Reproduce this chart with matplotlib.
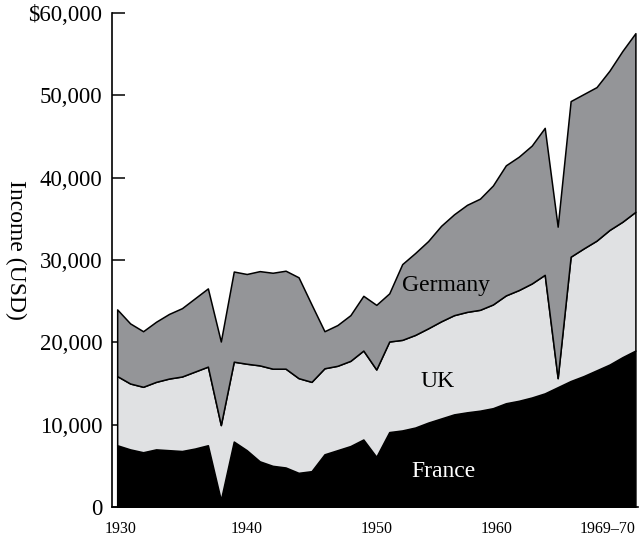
import matplotlib
matplotlib.use("Agg")
import matplotlib.pyplot as plt
import numpy as np

plt.rcParams["font.family"] = ["Liberation Serif", "DejaVu Serif"]

years = np.arange(1930, 1971)

france = [7500, 7000, 6650, 7000, 6900, 6800, 7100, 7500, 850, 7950,
          6900, 5550, 5000, 4800, 4150, 4350, 6400, 6900, 7400, 8200,
          6100, 9100, 9300, 9650, 10250, 10750, 11250, 11500, 11700, 12000,
          12600, 12900, 13300, 13800, 14550, 15300, 15900, 16600, 17300, 18200,
          19000]
uk = [8400, 8000, 7950, 8200, 8700, 9050, 9350, 9550, 9100, 9700,
      10500, 11650, 11800, 12000, 11500, 10850, 10450, 10250, 10350, 10800,
      10600, 11000, 11000, 11250, 11450, 11800, 12050, 12200, 12250, 12600,
      13100, 13450, 13850, 14400, 1100, 15100, 15500, 15750, 16350, 16450,
      16850]
germany = [8100, 7300, 6750, 7300, 7850, 8300, 8900, 9500, 10150, 10950,
           10900, 11450, 11650, 11900, 12250, 9400, 4500, 4950, 5550, 6650,
           7850, 5850, 9200, 9950, 10600, 11600, 12250, 13000, 13500, 14450,
           15800, 16200, 16750, 17850, 18400, 18900, 18750, 18650, 19350, 20750,
           21700]

series_names = ["France", "UK", "Germany"]
x_ticks = [1930.3, 1940, 1950, 1959.3, 1970]
x_labels = ["1930", "1940", "1950", "1960", "1969–70"]
y_ticks = [0, 10000, 20000, 30000, 40000, 50000, 60000]
y_labels = ["0", "10,000", "20,000", "30,000", "40,000", "50,000", "$60,000"]

fig = plt.figure(figsize=(6.39, 5.38), dpi=100)
ax = fig.add_axes([112 / 639, 31 / 538, 526 / 639, 494 / 538])

base = np.zeros(len(years))
colors = ["#000000", "#e0e1e3", "#949598"]
for vals, col in zip([france, uk, germany], colors):
    top = base + np.array(vals)
    ax.fill_between(years, base, top, facecolor=col, edgecolor="black",
                    linewidth=1.1, zorder=2)
    base = top

# labels inside the bands
ax.text(1955.4, 26900, "Germany", fontsize=17, ha="center", va="center")
ax.text(1954.7, 15200, "UK", fontsize=17, ha="center", va="center")
ax.text(1955.2, 4300, "France", fontsize=17, ha="center", va="center",
        color="white")

ax.set_xlim(1929.6, 1970.2)
ax.set_ylim(0, 60000)

ax.spines["top"].set_visible(False)
ax.spines["right"].set_visible(False)
ax.spines["left"].set_linewidth(1.2)
ax.spines["bottom"].set_linewidth(1.2)

ax.set_yticks(y_ticks)
ax.set_yticklabels(y_labels, fontsize=16.5)
ax.tick_params(axis="y", direction="in", length=9.5, width=1.1, pad=7)

ax.set_xticks(x_ticks)
ax.set_xticklabels(x_labels, fontsize=11.5)
ax.tick_params(axis="x", length=0, pad=10)
ax.get_xticklabels()[-1].set_ha("right")

fig.text(16 / 639, 1 - 250 / 538, "Income (USD)", rotation=-90,
         ha="center", va="center", fontsize=17)

fig.savefig("out.png", dpi=100)
